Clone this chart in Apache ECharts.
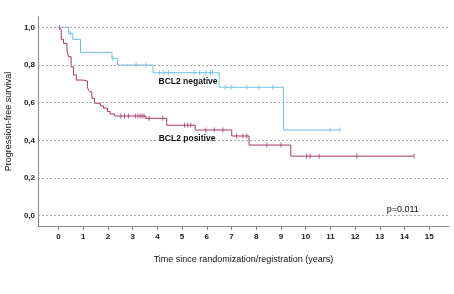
<!DOCTYPE html>
<html>
<head>
<meta charset="utf-8">
<script src="https://cdn.jsdelivr.net/npm/echarts@6/dist/echarts.min.js"></script>
<style>
  html, body { margin: 0; padding: 0; background: #fff; }
  #chart { width: 454px; height: 294px; }
</style>
</head>
<body>
<div id="chart"></div>
<script>
// 刻度
var xTicks = [0, 1, 2, 3, 4, 5, 6, 7, 8, 9, 10, 11, 12, 13, 14, 15];
var yTicks = [0, 0.2, 0.4, 0.6, 0.8, 1.0];

// BCL2 negative：事件时间 / 生存率
var negTime = [0, 0.4, 0.58, 0.89, 2.16, 2.39, 3.82, 6.5, 9.1, 11.4];
var negSurv = [1.0, 0.968, 0.936, 0.867, 0.835, 0.80, 0.759, 0.682, 0.455, 0.455];
var negCensor = [0.48, 2.2, 3.14, 3.53, 4.08, 4.27, 4.45, 5.49, 5.7, 5.96, 6.15, 6.22, 6.74, 7.01, 7.62, 8.12, 8.67, 10.99, 11.39];

// BCL2 positive
var posTime = [0, 0.06, 0.11, 0.2, 0.34, 0.4, 0.51, 0.61, 0.72, 1.01, 1.17, 1.25, 1.35, 1.46, 1.69, 1.82, 1.98, 2.09, 2.27, 3.53, 4.38, 5.53, 7.01, 7.71, 9.4, 14.38];
var posSurv = [1.0, 0.99, 0.936, 0.915, 0.88, 0.844, 0.79, 0.747, 0.72, 0.715, 0.68, 0.658, 0.623, 0.597, 0.583, 0.571, 0.553, 0.54, 0.529, 0.517, 0.48, 0.455, 0.423, 0.375, 0.316, 0.316];
var posCensor = [0.04, 2.52, 2.67, 2.83, 3.11, 3.21, 3.3, 3.38, 3.46, 3.67, 4.22, 5.1, 5.23, 5.35, 5.96, 6.3, 6.65, 7.21, 7.46, 7.62, 8.43, 9.0, 10.04, 10.18, 10.55, 12.07, 14.38];

var negColor = '#6cc0e8';
var posColor = '#a8386a';

function pairs(t, s) {
  return t.map(function (v, i) { return [v, s[i]]; });
}
// 删失点取所在阶梯的生存率
function censorPts(cens, t, s) {
  return cens.map(function (c) {
    var y = s[0];
    for (var i = 0; i < t.length; i++) {
      if (t[i] <= c) y = s[i];
    }
    return [c, y];
  });
}

var chart = echarts.init(document.getElementById('chart'));

var labelFont = { fontFamily: 'Liberation Sans', fontSize: 8, fontWeight: 'bold', color: '#222' };

var option = {
  animation: false,
  grid: { left: 38, right: 5, top: 17, bottom: 68, outerBoundsMode: 'none', containLabel: false },
  xAxis: {
    type: 'value',
    min: -0.83,
    max: 15.8,
    name: 'Time since randomization/registration (years)',
    nameLocation: 'middle',
    nameGap: 29,
    nameTextStyle: { fontFamily: 'Liberation Sans', fontSize: 9, color: '#111' },
    axisLine: { show: true, onZero: false, lineStyle: { color: '#888', width: 1 } },
    axisTick: { show: true, customValues: xTicks, length: 4, lineStyle: { color: '#888' } },
    axisLabel: Object.assign({ customValues: xTicks, margin: 7 }, labelFont),
    splitLine: { show: false }
  },
  yAxis: {
    type: 'value',
    min: -0.055,
    max: 1.055,
    name: 'Progression-free survival',
    nameLocation: 'middle',
    nameGap: 25,
    nameTextStyle: { fontFamily: 'Liberation Sans', fontSize: 9, color: '#111' },
    axisLine: { show: true, onZero: false, lineStyle: { color: '#888', width: 1 } },
    axisTick: { show: false },
    axisLabel: Object.assign({
      customValues: yTicks,
      margin: 3,
      formatter: function (v) { return v.toFixed(1).replace('.', ','); }
    }, labelFont),
    splitLine: { show: false }
  },
  series: [
    {
      name: 'BCL2 negative',
      type: 'line',
      step: 'end',
      symbol: 'none',
      data: pairs(negTime, negSurv),
      lineStyle: { color: negColor, width: 1 },
      z: 3,
      markLine: {
        silent: true,
        symbol: 'none',
        label: { show: false },
        lineStyle: { color: '#aaa', type: [2, 2], width: 1 },
        data: yTicks.map(function (v) { return { yAxis: v }; })
      },
      markPoint: {
        symbolSize: 0,
        label: {
          show: true, formatter: 'BCL2 negative',
          fontFamily: 'Liberation Sans', fontSize: 8.5, fontWeight: 'bold', color: '#111'
        },
        data: [{ coord: [5.24, 0.711] }]
      }
    },
    {
      name: 'BCL2 positive',
      type: 'line',
      step: 'end',
      symbol: 'none',
      data: pairs(posTime, posSurv),
      lineStyle: { color: posColor, width: 1 },
      z: 3,
      markPoint: {
        symbolSize: 0,
        label: {
          show: true, formatter: 'BCL2 positive',
          fontFamily: 'Liberation Sans', fontSize: 8.5, fontWeight: 'bold', color: '#111'
        },
        data: [{ coord: [5.2, 0.411] }]
      }
    },
    {
      type: 'scatter',
      symbol: 'rect',
      symbolSize: [1, 5],
      itemStyle: { color: negColor },
      data: censorPts(negCensor, negTime, negSurv),
      z: 4
    },
    {
      type: 'scatter',
      symbol: 'rect',
      symbolSize: [1, 5],
      itemStyle: { color: posColor },
      data: censorPts(posCensor, posTime, posSurv),
      z: 4,
      markPoint: {
        symbolSize: 0,
        label: {
          show: true, formatter: 'p=0.011',
          fontFamily: 'Liberation Sans', fontSize: 9, color: '#111'
        },
        data: [{ coord: [13.93, 0.034] }]
      }
    }
  ]
};

chart.setOption(option);
</script>
</body>
</html>
